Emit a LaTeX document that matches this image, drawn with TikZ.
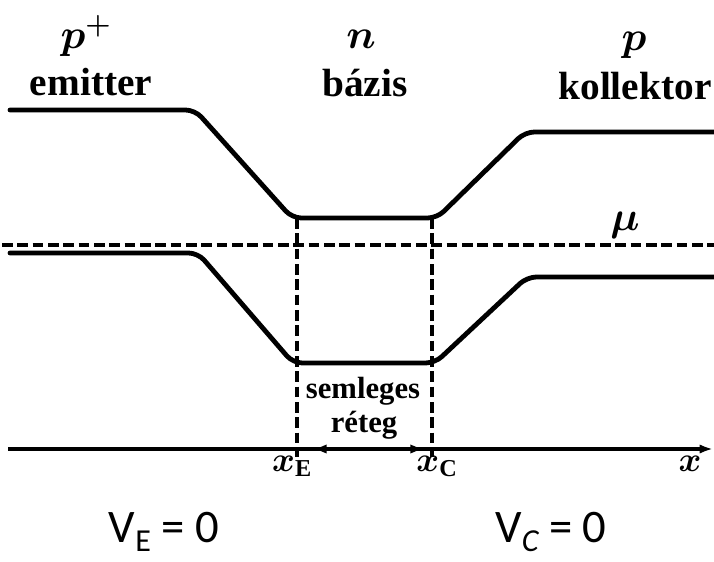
\RequirePackage{fix-cm}
\documentclass[tikz,border=0pt]{standalone}
\usepackage{fontspec}
\setmainfont{Liberation Serif}
\newfontfamily\carlito{Carlito}
\usetikzlibrary{arrows.meta}
\begin{document}
\begin{tikzpicture}[x=0.75pt,y=-0.75pt,
  band/.style={line width=3.6pt, rounded corners=7pt, line cap=round},
  dline/.style={line width=2.4pt, dash pattern=on 8pt off 3.5pt},
  axisline/.style={line width=2.4pt},
  txt/.style={anchor=base, inner sep=0pt, font=\bfseries\fontsize{29.5}{34}\selectfont},
  small/.style={anchor=base, inner sep=0pt, font=\bfseries\fontsize{23}{28}\selectfont},
  mlbl/.style={anchor=base, inner sep=0pt, font=\fontsize{31}{36}\selectfont\boldmath},
  xlbl/.style={anchor=base, inner sep=0pt, font=\fontsize{26}{30}\selectfont\boldmath},
  vlbl/.style={anchor=base, inner sep=0pt, font=\carlito\fontsize{35}{40}\selectfont},
  tip/.style={-{Latex[length=10pt,width=7pt]}}
]
\useasboundingbox (0,0) rectangle (714,561);

% labels
\node[mlbl] (pplus) at (86,48) {$p^{+}$};
\node[txt] (emitter) at (91,95) {emitter};
\node[mlbl] (nlab) at (361,48) {$n$};
\node[txt] (bazis) at (365,96) {bázis};
\node[mlbl] (plab) at (634,50) {$p$};
\node[txt] (koll) at (635,99) {kollektor};
\node[mlbl] (mu) at (625,230) {$\mu$};

% band edges
\coordinate (u1) at (10,110);
\coordinate (u2) at (195,110);
\coordinate (u3) at (292,218);
\coordinate (u4) at (437,218);
\coordinate (u5) at (525,132);
\coordinate (u6) at (714,132);
\draw[band] (u1) -- (u2) -- (u3) -- (u4) -- (u5) -- (u6);

\coordinate (l1) at (10,253);
\coordinate (l2) at (198,253);
\coordinate (l3) at (293,363);
\coordinate (l4) at (435,363);
\coordinate (l5) at (527,277);
\coordinate (l6) at (714,277);
\draw[band] (l1) -- (l2) -- (l3) -- (l4) -- (l5) -- (l6);

% chemical potential
\coordinate (m1) at (2,245);
\coordinate (m2) at (714,245);
\draw[dline] (m1) -- (m2);

% boundaries
\coordinate (eT) at (297,218);
\coordinate (eB) at (297,457);
\coordinate (cT) at (432,218);
\coordinate (cB) at (432,457);
\draw[dline] (eT) -- (eB);
\draw[dline] (cT) -- (cB);

% axis
\coordinate (a1) at (8,449);
\coordinate (a2) at (713,449);
\draw[axisline, tip] (a1) -- (a2);
\coordinate (w1) at (312,449);
\coordinate (w2) at (425,449);
\draw[axisline, {Latex[length=11pt,width=7pt]}-{Latex[length=11pt,width=7pt]}] (w1) -- (w2);

\node[small] (semleges) at (363,398) {semleges};
\node[small] (reteg) at (364,432) {réteg};

\node[xlbl] (xE) at (292,471) {$x_{\mathrm{E}}$};
\node[xlbl] (xC) at (437,471) {$x_{\mathrm{C}}$};
\node[xlbl] (xx) at (690,471) {$x$};

\node[vlbl] (VE) at (164,542) {V\raisebox{-7pt}{\fontsize{24}{28}\selectfont E} = 0};
\node[vlbl] (VC) at (551,542) {V\raisebox{-7pt}{\fontsize{24}{28}\selectfont\itshape C} = 0};
\end{tikzpicture}
\end{document}
